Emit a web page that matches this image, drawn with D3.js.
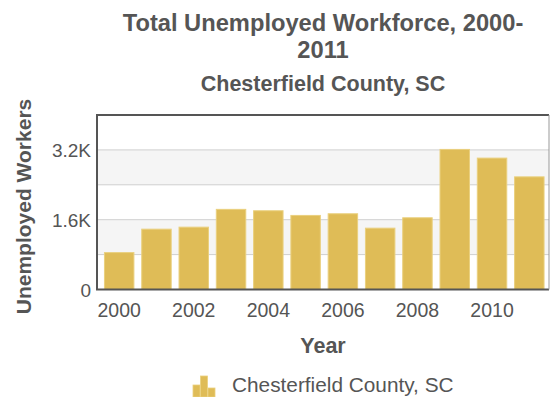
<!DOCTYPE html>
<html>
<head>
<meta charset="utf-8">
<script src="https://cdn.jsdelivr.net/npm/d3@7"></script>
<style>
  body { margin: 0; background: #fff; }
  text { font-family: "Liberation Sans", Arial, sans-serif; fill: #555; }
</style>
</head>
<body>
<div id="chart"></div>
<script>
const width = 550,
    height = 397;

const years = ["2000", "2001", "2002", "2003", "2004", "2005", "2006", "2007", "2008", "2009", "2010", "2011"];
const unemployed = [846, 1383, 1429, 1837, 1805, 1698, 1736, 1406, 1644, 3211, 3012, 2582];
const yTicks = [0, 1600, 3200];
const gridValues = [800, 1600, 2400, 3200];
const xTickLabels = ["2000", "2002", "2004", "2006", "2008", "2010"];

const plotLeft = 97,
    plotRight = 549,
    plotTop = 115,
    plotBottom = 289.5;

const svg = d3.select("#chart")
    .append("svg")
    .attr("width", width)
    .attr("height", height);

const x = d3.scaleBand()
    .domain(years)
    .range([plotLeft, 551.5])
    .paddingInner(0.21)
    .paddingOuter(0.2);

const y = d3.scaleLinear()
    .domain([0, 4000])
    .range([plotBottom, plotTop]);

// alternating bands
svg.selectAll(null)
    .data([[800, 1600], [2400, 3200]])
    .join("rect")
    .attr("x", plotLeft)
    .attr("width", plotRight - plotLeft)
    .attr("y", d => y(d[1]))
    .attr("height", d => y(d[0]) - y(d[1]))
    .attr("fill", "#f5f5f5");

svg.selectAll(null)
    .data(gridValues)
    .join("line")
    .attr("x1", plotLeft)
    .attr("x2", plotRight)
    .attr("y1", d => y(d))
    .attr("y2", d => y(d))
    .attr("stroke", "#cfcfcf")
    .attr("stroke-width", 1);

svg.selectAll(null)
    .data(unemployed)
    .join("rect")
    .attr("x", (d, i) => x(years[i]))
    .attr("width", x.bandwidth())
    .attr("y", d => y(d))
    .attr("height", d => y(0) - y(d))
    .attr("fill", "#dfbc57")
    .attr("stroke", "#ead07e")
    .attr("stroke-width", 1);

// frame: dark top/left/bottom, light right
svg.append("path")
    .attr("d", `M${plotRight},${plotTop}H${plotLeft}V${plotBottom}H${plotRight}`)
    .attr("fill", "none")
    .attr("stroke", "#555")
    .attr("stroke-width", 2);
svg.append("line")
    .attr("x1", plotRight)
    .attr("x2", plotRight)
    .attr("y1", plotTop)
    .attr("y2", plotBottom)
    .attr("stroke", "#999")
    .attr("stroke-width", 1);

// y axis
const yAxis = svg.append("g")
    .attr("transform", `translate(${plotLeft - 6},0)`)
    .call(d3.axisLeft(y).tickValues(yTicks).tickSize(0)
        .tickFormat(d => d === 0 ? "0" : (d / 1000).toFixed(1) + "K"));
yAxis.select(".domain").remove();
yAxis.selectAll("text")
    .style("font-size", "19px")
    .attr("x", 0)
    .attr("fill", "#555")
    .attr("dy", "0.35em");

// x axis
const xAxis = svg.append("g")
    .attr("transform", `translate(0,${plotBottom})`)
    .call(d3.axisBottom(x).tickValues(xTickLabels).tickSize(0));
xAxis.select(".domain").remove();
xAxis.selectAll("text")
    .style("font-size", "19.5px")
    .attr("fill", "#555")
    .attr("y", 0)
    .attr("dy", 27.5);

const cx = (plotLeft + plotRight) / 2;

svg.append("text")
    .attr("x", cx)
    .attr("y", 30.5)
    .attr("text-anchor", "middle")
    .style("font-size", "23.7px")
    .style("font-weight", "bold")
    .text("Total Unemployed Workforce, 2000-");

svg.append("text")
    .attr("x", cx)
    .attr("y", 58)
    .attr("text-anchor", "middle")
    .style("font-size", "23.7px")
    .style("font-weight", "bold")
    .text("2011");

svg.append("text")
    .attr("x", cx)
    .attr("y", 90.5)
    .attr("text-anchor", "middle")
    .style("font-size", "21.5px")
    .style("font-weight", "bold")
    .text("Chesterfield County, SC");

svg.append("text")
    .attr("x", cx)
    .attr("y", 353)
    .attr("text-anchor", "middle")
    .style("font-size", "21.5px")
    .style("font-weight", "bold")
    .text("Year");

svg.append("text")
    .attr("transform", `translate(31,206.5) rotate(-90)`)
    .attr("text-anchor", "middle")
    .style("font-size", "21px")
    .style("font-weight", "bold")
    .text("Unemployed Workers");

// legend
const legend = svg.append("g").attr("transform", "translate(193,376)");
legend.selectAll(null)
    .data([[0, 9, 7], [7.5, 0, 7], [15, 12, 7]])
    .join("rect")
    .attr("x", d => d[0])
    .attr("y", d => d[1])
    .attr("width", d => d[2])
    .attr("height", d => 21 - d[1])
    .attr("fill", "#dfbc57")
    .attr("stroke", "#ead07e")
    .attr("stroke-width", 0.8);
legend.append("text")
    .attr("x", 39)
    .attr("y", 16)
    .style("font-size", "20.8px")
    .text("Chesterfield County, SC");
</script>
</body>
</html>
